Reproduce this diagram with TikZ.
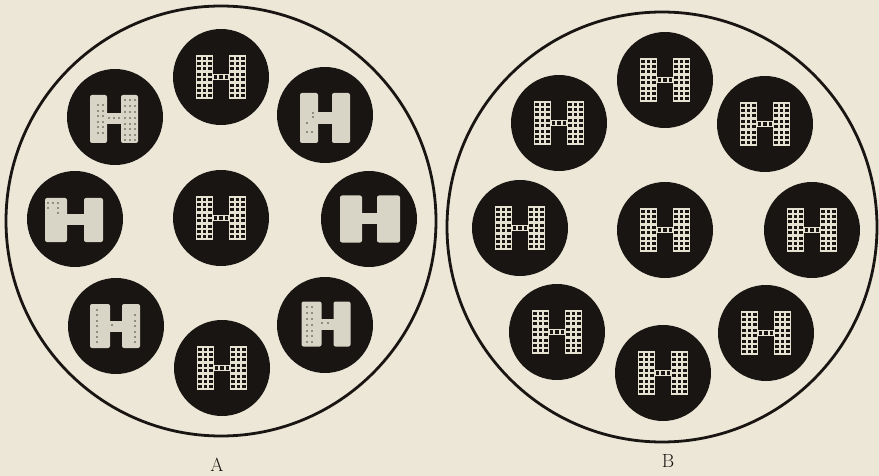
\documentclass[tikz,border=0pt]{standalone}
\definecolor{paper}{RGB}{237,231,215}
\definecolor{ink}{RGB}{24,21,18}
\definecolor{hlight}{RGB}{230,226,210}
\definecolor{hsolid}{RGB}{216,213,198}
\definecolor{hdot}{RGB}{70,66,60}
\newcommand\hcw{5.5}
\newcommand\hch{5.4}
\newcommand\hsq{1.55}
\tikzset{
 disc/.style={circle, fill=ink, minimum size=96pt, inner sep=0pt, outer sep=0pt},
 ring/.style={circle, draw=ink, line width=2.8pt, minimum size=430pt, inner sep=0pt},
 lbl/.style={inner sep=0pt, text=ink, font=\fontsize{19}{19}\selectfont},
 gridh/.pic={
  \fill[hlight] (-4.6*\hcw,-4.1*\hch) rectangle (-1.45*\hcw,4.1*\hch);
  \fill[hlight] (1.45*\hcw,-4.1*\hch) rectangle (4.6*\hcw,4.1*\hch);
  \fill[hlight] (-1.6*\hcw,-0.55*\hch) rectangle (1.6*\hcw,0.55*\hch);
  \foreach \i in {-4,-3,-2,2,3,4}{
    \foreach \j in {-3.5,-2.5,-1.5,-0.5,0.5,1.5,2.5,3.5}{
      \fill[ink] ({\i*\hcw-\hsq},{\j*\hch-\hsq}) rectangle ({\i*\hcw+\hsq},{\j*\hch+\hsq});
    }}
  \foreach \i in {-1,0,1}{
      \fill[ink] ({\i*\hcw-\hsq},{-\hsq}) rectangle ({\i*\hcw+\hsq},{\hsq});}
 }
}
% solid H: x, y, width, height, left leg, right leg, bar thickness
\newcommand\solidH[7]{%
 \begin{scope}[shift={(#1,#2)}]
  \fill[hsolid, rounded corners=2pt] ({-#3/2},{-#4/2}) rectangle ({-#3/2+#5},{#4/2});
  \fill[hsolid, rounded corners=2pt] ({#3/2-#6},{-#4/2}) rectangle ({#3/2},{#4/2});
  \fill[hsolid] ({-#3/2+#5-1},{-#7/2}) rectangle ({#3/2-#6+1},{#7/2});
 \end{scope}}
\newcommand\hdotgrid[4]{\foreach \x in {#3}{\foreach \y in {#4}{\fill[hdot] ({#1+\x},{#2+\y}) circle (0.85pt);}}}
\newcommand\hdotlist[3]{\foreach \x/\y in {#3}{\fill[hdot] ({#1+\x},{#2+\y}) circle (0.85pt);}}
\begin{document}
\begin{tikzpicture}[x=1pt,y=-1pt]
\fill[paper] (0,0) rectangle (879,476);
\useasboundingbox (0,0) rectangle (879,476);

% ---------- A ----------
\node[ring] (A) at (221,221) {};
\node[disc] (a1) at (221,77) {};
\node[disc] (a2) at (115,117) {};
\node[disc] (a3) at (325,115) {};
\node[disc] (a4) at (75,219) {};
\node[disc] (a5) at (221,218) {};
\node[disc] (a6) at (369,219) {};
\node[disc] (a7) at (116,326) {};
\node[disc] (a8) at (222,368) {};
\node[disc] (a9) at (325,325) {};

\pic at (a1) {gridh};
\pic at (a5) {gridh};
\pic at (a8) {gridh};

\solidH{114}{119}{48}{48}{17}{17}{11}
\hdotgrid{114}{119}{11,16,21}{-19,-13,-7,-1,5,10,16,21}
\hdotgrid{114}{119}{-16,-11}{-14,-8,-3,3,8,14}
\hdotgrid{114}{119}{-5,0,5}{-1}

\solidH{325}{118}{50}{50}{18}{18}{12}
\hdotlist{325}{118}{-18/5,-18/14,-13/14,-12/-5,-12/-1}

\solidH{74}{220}{58}{44}{22}{19}{11}
\hdotlist{74}{220}{-26/-17,-21/-17,-16/-17,-26/-12,-16/-12,-16/-7}

\solidH{370}{219}{60}{47}{22}{23}{11}

\solidH{115}{326}{50}{44}{20}{18}{11}
\hdotgrid{115}{326}{-18}{-16,-11,-5,0,6,11,16}
\hdotgrid{115}{326}{20}{-11,-5,0,6,11,16}
\hdotlist{115}{326}{-3/-1}

\solidH{326}{324}{49}{45}{20}{17}{11}
\hdotgrid{326}{324}{-19,-14}{-17,-11,-5,1,7,12,18}
\hdotlist{326}{324}{-4/-1,2/-1}

\node[lbl] (la) at (217,465) {A};

% ---------- B ----------
\node[ring] (B) at (662,227) {};
\node[disc] (b1) at (665,80) {};
\node[disc] (b2) at (559,123) {};
\node[disc] (b3) at (765,124) {};
\node[disc] (b4) at (520,228) {};
\node[disc] (b5) at (665,230) {};
\node[disc] (b6) at (812,230) {};
\node[disc] (b7) at (557,332) {};
\node[disc] (b8) at (663,373) {};
\node[disc] (b9) at (766,333) {};
\foreach \n in {b1,b2,b3,b4,b5,b6,b7,b8,b9}{\pic at (\n) {gridh};}

\node[lbl] (lb) at (668,461) {B};
\end{tikzpicture}
\end{document}
